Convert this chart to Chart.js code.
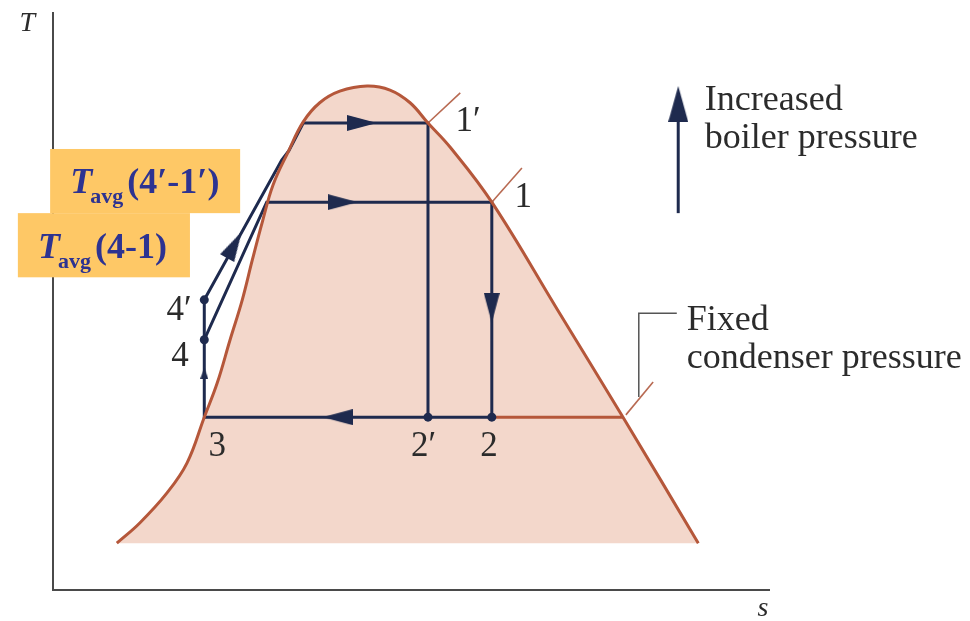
<!DOCTYPE html>
<html>
<head>
<meta charset="utf-8">
<script src="https://cdn.jsdelivr.net/npm/chart.js@4.4.0/dist/chart.umd.min.js"></script>
<style>
  body { margin: 0; background: #fff; }
  #wrap { width: 970px; height: 621px; }
</style>
</head>
<body>
<div id="wrap"><canvas id="tsChart"></canvas></div>
<script>
const domeS = [0.89, 1.21, 1.59, 1.87, 2.11, 2.29, 2.47, 2.64, 2.78, 2.92, 3.07, 3.28, 3.49, 3.72, 4.00, 4.38, 4.70, 4.98, 5.23, 5.54, 6.12, 7.04, 7.95, 9.00];
const domeT = [8.1, 11.6, 16.8, 22.0, 29.9, 35.8, 43.3, 50.2, 57.1, 63.7, 70.1, 75.8, 81.0, 84.3, 86.3, 87.2, 86.5, 84.3, 80.8, 76.6, 67.1, 48.4, 29.9, 8.1];
const domeBase = 8.1;

// state points of the two cycles
const stateNames = ['3', '4', '4′', '1', '1′', '2', '2′'];
const stateS = [2.11, 2.11, 2.11, 6.12, 5.23, 6.12, 5.23];
const stateT = [29.9, 43.3, 50.2, 67.1, 80.8, 29.9, 29.9];
const dotStates = ['4', '4′', '2', '2′'];

// process paths
const cycleS = [2.11, 2.98, 6.12, 6.12];            // 4 -> 1 -> 2
const cycleT = [43.3, 67.1, 67.1, 29.9];
const cyclePrimeS = [2.11, 3.19, 3.29, 3.49, 5.23, 5.23];   // 4' -> 1' -> 2'
const cyclePrimeT = [50.2, 74.4, 76.0, 80.8, 80.8, 29.9];
const pumpS = [6.12, 2.11, 2.11];                   // 2 -> 3 -> 4'
const pumpT = [29.9, 29.9, 50.2];
const condS = [6.12, 7.95];
const condT = [29.9, 29.9];

// isobar ticks and the leader line
const tickS = [[5.23, 5.68], [6.12, 6.54], [7.99, 8.37]];
const tickT = [[80.8, 86.0], [67.1, 73.0], [30.3, 36.0]];
const leaderS = [8.17, 8.17, 8.70];
const leaderT = [33.4, 47.9, 47.9];
const boilerS = [8.72, 8.72];
const boilerT = [65.2, 81.0];

// arrow heads: position, direction (deg, 0 = up) and kind
const arrowS = [4.31, 4.04, 6.12, 3.97, 2.53, 2.11, 8.72];
const arrowT = [80.8, 67.1, 48.8, 29.9, 59.7, 37.5, 84.1];
const arrowDir = [90, 90, 180, 270, 29, 0, 0];
const arrowKind = ['big', 'big', 'big', 'big', 'big', 'small', 'huge'];

const NAVY = '#1e2a4e';
const BROWN = '#b5573a';

function makeHead(w, h) {
    const c = document.createElement('canvas');
    c.width = w; c.height = h;
    const g = c.getContext('2d');
    g.fillStyle = NAVY;
    g.beginPath();
    g.moveTo(w / 2, 0);
    g.lineTo(w, h);
    g.lineTo(0, h);
    g.closePath();
    g.fill();
    return c;
}
const heads = { big: makeHead(16, 30), small: makeHead(8, 11), huge: makeHead(20, 36) };

const pts = (xs, ys) => xs.map((s, i) => ({ x: s, y: ys[i] }));

const lineSet = (data, color, width, order) => ({
    data, showLine: true, borderColor: color, borderWidth: width,
    pointRadius: 0, fill: false, tension: 0, order, clip: false
});

const datasets = [];
datasets.push({
    data: pts(domeS, domeT), showLine: true, borderWidth: 0, borderColor: 'rgba(0,0,0,0)',
    backgroundColor: '#f3d7cb', fill: { value: domeBase }, pointRadius: 0,
    tension: 0.4, order: 10
});
datasets.push(lineSet(pts(cycleS, cycleT), NAVY, 3, 5));
datasets.push(lineSet(pts(cyclePrimeS, cyclePrimeT), NAVY, 3, 5));
datasets.push(lineSet(pts(pumpS, pumpT), NAVY, 3, 5));
datasets.push(Object.assign(lineSet(pts(domeS, domeT), BROWN, 3, 3), { tension: 0.4 }));
datasets.push(lineSet(pts(condS, condT), BROWN, 3, 3));
tickS.forEach((s, i) => datasets.push(lineSet(pts(s, tickT[i]), '#b86a52', 1.6, 3)));
datasets.push(lineSet(pts(leaderS, leaderT), '#555', 1.5, 3));
datasets.push(lineSet(pts(boilerS, boilerT), NAVY, 3, 3));

const dotIdx = dotStates.map(n => stateNames.indexOf(n));
datasets.push({
    data: dotIdx.map(i => ({ x: stateS[i], y: stateT[i] })),
    showLine: false, pointRadius: 4.5, pointBackgroundColor: NAVY, pointBorderWidth: 0, order: 1
});
datasets.push({
    data: pts(arrowS, arrowT), showLine: false, pointRadius: 5,
    pointStyle: arrowKind.map(k => heads[k]), rotation: arrowDir, order: 0
});

// text placed in plot units
const labelText = ['1′', '1', '3', '2′', '2', '4′', '4'];
const labelS = [5.79, 6.56, 2.29, 5.17, 6.08, 1.76, 1.77];
const labelT = [81.0, 67.8, 24.7, 24.7, 24.7, 48.3, 40.3];
const noteText = ['Increased', 'boiler pressure', 'Fixed', 'condenser pressure'];
const noteS = [9.09, 9.09, 8.84, 8.84];
const noteT = [83.0, 76.5, 45.0, 38.4];
const boxS = [[-0.04, 2.61], [-0.49, 1.91]];
const boxT = [[76.3, 65.2], [65.2, 54.1]];
const boxTextS = [0.24, -0.21];
const boxTextT = [68.7, 57.4];
const boxRange = ['(4′-1′)', '(4-1)'];

const annotate = {
    id: 'annotate',
    beforeDatasetsDraw(chart) {
        const { ctx, chartArea: a } = chart;
        ctx.save();
        ctx.strokeStyle = '#4a4a4a';
        ctx.lineWidth = 2;
        ctx.beginPath();
        ctx.moveTo(a.left, a.top);
        ctx.lineTo(a.left, a.bottom);
        ctx.lineTo(a.right, a.bottom);
        ctx.stroke();
        ctx.restore();
    },
    afterDraw(chart) {
        const { ctx, scales: { x, y } } = chart;
        ctx.save();
        ctx.fillStyle = '#2b2b2b';
        ctx.textAlign = 'center';
        ctx.textBaseline = 'middle';
        ctx.font = '35px "Liberation Serif"';
        labelText.forEach((t, i) => ctx.fillText(t, x.getPixelForValue(labelS[i]), y.getPixelForValue(labelT[i])));

        ctx.font = 'italic 28px "Liberation Serif"';
        ctx.fillText('T', x.getPixelForValue(-0.36), y.getPixelForValue(97.9));
        ctx.fillText('s', x.getPixelForValue(9.9), y.getPixelForValue(-3.2));

        ctx.textAlign = 'left';
        ctx.textBaseline = 'alphabetic';
        ctx.font = '36px "Liberation Serif"';
        noteText.forEach((t, i) => ctx.fillText(t, x.getPixelForValue(noteS[i]), y.getPixelForValue(noteT[i])));

        boxS.forEach((bs, i) => {
            const x0 = x.getPixelForValue(bs[0]), x1 = x.getPixelForValue(bs[1]);
            const y0 = y.getPixelForValue(boxT[i][0]), y1 = y.getPixelForValue(boxT[i][1]);
            ctx.fillStyle = '#fec866';
            ctx.fillRect(x0, y0, x1 - x0, y1 - y0);
            let tx = x.getPixelForValue(boxTextS[i]);
            const ty = y.getPixelForValue(boxTextT[i]);
            ctx.fillStyle = '#2d3391';
            ctx.font = 'italic bold 36px "Liberation Serif"';
            ctx.fillText('T', tx, ty);
            tx += 20;
            ctx.font = 'bold 22px "Liberation Serif"';
            ctx.fillText('avg', tx, ty + 10);
            tx += ctx.measureText('avg').width + 4;
            ctx.font = 'bold 36px "Liberation Serif"';
            ctx.fillText(boxRange[i], tx, ty);
        });
        ctx.restore();
    }
};

new Chart(document.getElementById('tsChart'), {
    type: 'scatter',
    data: { datasets },
    options: {
        responsive: true,
        maintainAspectRatio: false,
        animation: false,
        layout: { padding: { left: 53, right: 200, top: 12, bottom: 31 } },
        scales: {
            x: { display: false, min: 0, max: 10 },
            y: { display: false, min: 0, max: 100 }
        },
        plugins: { legend: { display: false }, tooltip: { enabled: false } }
    },
    plugins: [annotate]
});
</script>
</body>
</html>
